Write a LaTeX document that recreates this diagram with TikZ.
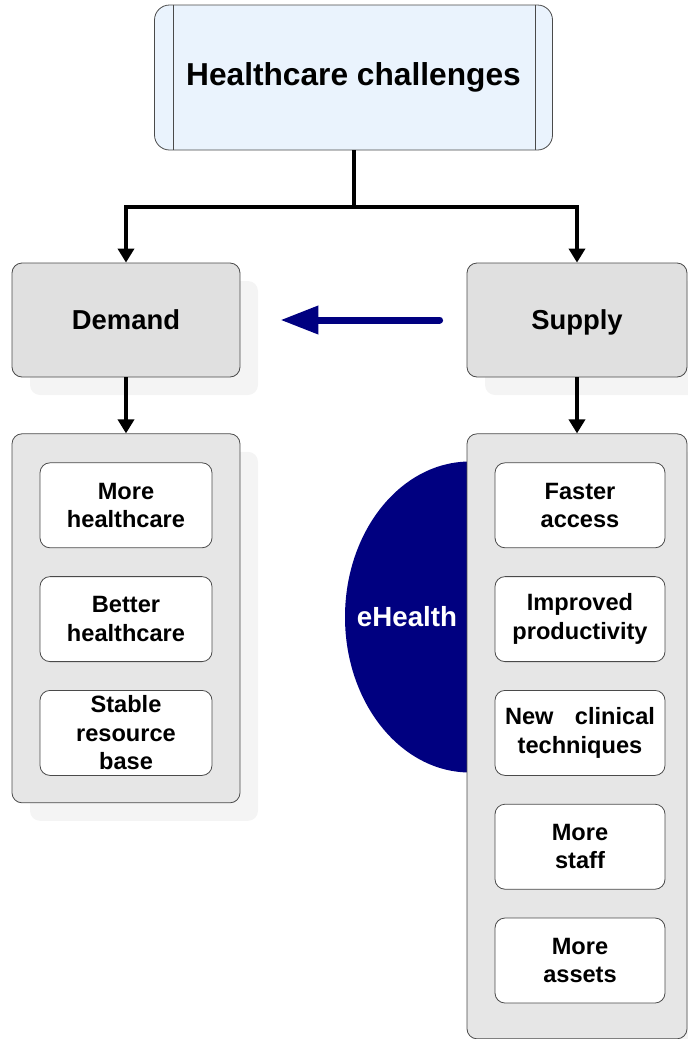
\documentclass[tikz,border=0pt]{standalone}
\usepackage{fontspec}
\setmainfont{Liberation Sans}
\usetikzlibrary{arrows.meta, positioning, shapes.geometric, shadows}

\definecolor{titlefill}{HTML}{EAF3FD}
\definecolor{boxfill}{HTML}{E0E0E0}
\definecolor{listfill}{HTML}{E6E6E6}
\definecolor{navyblue}{HTML}{000080}
\definecolor{shadowgray}{HTML}{F4F4F4}
\definecolor{edgegray}{HTML}{4A4A4A}

\begin{document}
\begin{tikzpicture}[
      x=1pt, y=-1pt,
      titlebox/.style={rectangle, draw=edgegray, thick, fill=titlefill, rounded corners=15pt, minimum width=398pt, minimum height=145pt, font=\fontsize{31.7}{36}\selectfont\bfseries},
      mainbox/.style={rectangle, draw=edgegray, thick, fill=boxfill, rounded corners=10pt, minimum width=228pt, minimum height=114pt, text height=25.6pt, text depth=6pt, font=\fontsize{27.4}{32}\selectfont\bfseries, drop shadow={shadow xshift=18pt, shadow yshift=-18pt, fill=shadowgray, opacity=1}},
      listbox/.style={rectangle, draw=edgegray, thick, fill=listfill, rounded corners=10pt, minimum width=228pt, drop shadow={shadow xshift=18pt, shadow yshift=-18pt, fill=shadowgray, opacity=1}},
      itembox/.style={rectangle, draw=edgegray, thick, fill=white, rounded corners=10pt, minimum width=172pt, minimum height=85pt, inner sep=2pt, align=center, font=\fontsize{23.6}{28.5}\selectfont\bfseries},
      ehealth/.style={ellipse, fill=navyblue, minimum width=250pt, minimum height=311pt, inner sep=0pt},
      link/.style={line width=4pt},
      linkarrow/.style={link, -{Triangle[length=14pt, width=16pt]}},
      bluearrow/.style={line width=7pt, navyblue, line cap=round, -{Triangle[length=38pt, width=27pt]}},
      node distance=28pt
    ]
    \useasboundingbox (0,0) rectangle (688,1039);

    % top
    \node[titlebox] (title) at (353.5,77.5) {Healthcare challenges};
    \draw[edgegray, thick] ([xshift=19pt]title.north west) -- ([xshift=19pt]title.south west);
    \draw[edgegray, thick] ([xshift=-18pt]title.north east) -- ([xshift=-18pt]title.south east);

    % demand and supply
    \node[mainbox] (demand) at (126,320) {Demand};
    \node[mainbox, minimum width=220pt] (supply) at (577,320) {Supply};

    \draw[link] (title.south) -- ++(0,57) coordinate (split);
    \draw[linkarrow] (split) -| (demand.north);
    \draw[linkarrow] (split) -| (supply.north);
    \draw[bluearrow, shorten <=27pt, shorten >=40pt] (supply) -- (demand);

    % demand side
    \node[listbox, minimum height=369pt, below=56pt of demand] (dlist) {};
    \node[itembox, below=29pt of dlist.north] (more) {More\\healthcare};
    \node[itembox, below=of more] (better) {Better\\healthcare};
    \node[itembox, below=of better] (stable) {Stable\\resource\\base};
    \draw[linkarrow] (demand) -- (dlist);

    % supply side
    \node[ehealth] (eh) at (470,617) {};
    \node[listbox, minimum width=220pt, minimum height=605pt, below=56pt of supply] (slist) {};
    \node[font=\fontsize{27.7}{32}\selectfont\bfseries, text=white] (ehtext) at (407,617) {eHealth};
    \node[itembox, minimum width=170pt, below=29pt of slist.north, xshift=3pt] (faster) {Faster\\access};
    \node[itembox, minimum width=170pt, below=of faster] (improved) {Improved\\productivity};
    \node[itembox, minimum width=170pt, below=of improved] (clinical) {\makebox[150pt]{New\hfill clinical}\\techniques};
    \node[itembox, minimum width=170pt, below=of clinical] (staff) {More\\staff};
    \node[itembox, minimum width=170pt, below=of staff] (assets) {More\\assets};
    \draw[linkarrow] (supply) -- (slist);

    \end{tikzpicture}
\end{document}
